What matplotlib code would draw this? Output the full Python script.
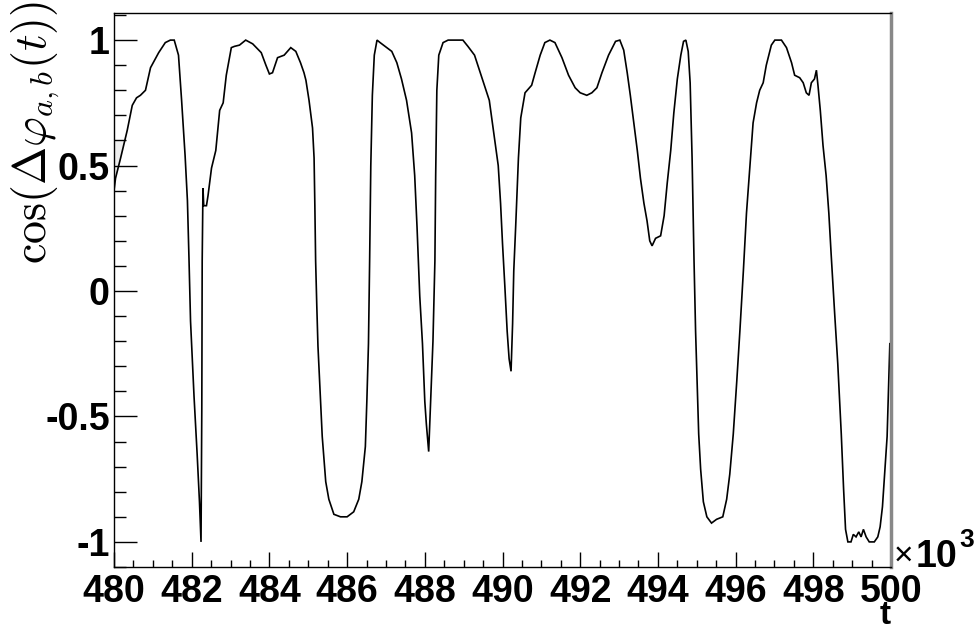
import numpy as np
import matplotlib
matplotlib.use("Agg")
import matplotlib.pyplot as plt
from matplotlib.ticker import MultipleLocator, FuncFormatter

# ---- data (t in units of 10^3) ----
t = [480.00, 480.04, 480.17, 480.34, 480.47, 480.58, 480.68, 480.81, 480.94, 481.15,
     481.32, 481.45, 481.55, 481.66, 481.74, 481.83, 481.89, 481.93, 481.97, 482.02,
     482.06, 482.14, 482.20, 482.24, 482.26, 482.27, 482.29, 482.31, 482.38, 482.42,
     482.51, 482.62, 482.72, 482.81, 482.89, 483.02, 483.10, 483.23, 483.39, 483.57,
     483.79, 483.91, 484.00, 484.08, 484.21, 484.38, 484.55, 484.68, 484.80, 484.89,
     484.94, 485.02, 485.11, 485.15, 485.17, 485.19, 485.22, 485.25, 485.30, 485.36,
     485.45, 485.53, 485.66, 485.83, 486.00, 486.17, 486.30, 486.38, 486.47, 486.51,
     486.55, 486.58, 486.61, 486.65, 486.70, 486.77, 486.85, 486.98, 487.15, 487.28,
     487.40, 487.53, 487.66, 487.74, 487.80, 487.87, 487.94, 488.00, 488.04, 488.10,
     488.15, 488.21, 488.26, 488.28, 488.31, 488.36, 488.47, 488.60, 488.98, 489.11,
     489.28, 489.45, 489.66, 489.80, 489.89, 489.95, 490.00, 490.06, 490.12, 490.17,
     490.22, 490.26, 490.29, 490.34, 490.41, 490.47, 490.58, 490.75, 490.84, 490.97,
     491.09, 491.22, 491.35, 491.53, 491.70, 491.87, 492.00, 492.17, 492.30, 492.43,
     492.56, 492.73, 492.91, 493.02, 493.12, 493.21, 493.29, 493.38, 493.47, 493.55,
     493.64, 493.72, 493.79, 493.85, 493.94, 494.07, 494.16, 494.24, 494.33, 494.41,
     494.50, 494.59, 494.66, 494.72, 494.78, 494.83, 494.88, 494.93, 494.97, 495.01,
     495.05, 495.10, 495.17, 495.26, 495.38, 495.51, 495.67, 495.77, 495.85, 495.94,
     496.03, 496.11, 496.20, 496.28, 496.37, 496.45, 496.54, 496.62, 496.71, 496.79,
     496.92, 497.01, 497.18, 497.31, 497.44, 497.52, 497.65, 497.74, 497.82, 497.89,
     497.95, 498.03, 498.08, 498.12, 498.18, 498.25, 498.33, 498.40, 498.46, 498.55,
     498.63, 498.72, 498.78, 498.83, 498.89, 498.97, 499.03, 499.10, 499.17, 499.23,
     499.29, 499.36, 499.44, 499.57, 499.66, 499.72, 499.78, 499.84, 499.90, 499.97]

cos_dphi = [0.40, 0.45, 0.53, 0.64, 0.74, 0.77, 0.78, 0.80, 0.89, 0.95,
            0.99, 1.00, 1.00, 0.94, 0.76, 0.54, 0.36, 0.13, -0.12, -0.29,
            -0.42, -0.65, -0.84, -1.00, -0.47, 0.12, 0.41, 0.34, 0.34, 0.38,
            0.49, 0.56, 0.72, 0.75, 0.86, 0.97, 0.975, 0.98, 1.00, 0.985,
            0.95, 0.90, 0.865, 0.87, 0.93, 0.94, 0.97, 0.955, 0.91, 0.87,
            0.84, 0.76, 0.65, 0.53, 0.34, 0.12, -0.06, -0.22, -0.38, -0.58,
            -0.76, -0.83, -0.89, -0.90, -0.90, -0.88, -0.83, -0.76, -0.62, -0.43,
            -0.21, 0.12, 0.50, 0.78, 0.94, 1.00, 0.99, 0.975, 0.955, 0.91,
            0.845, 0.76, 0.63, 0.46, 0.255, -0.02, -0.21, -0.44, -0.53, -0.64,
            -0.44, -0.20, 0.12, 0.46, 0.80, 0.94, 0.99, 1.00, 1.00, 0.975,
            0.94, 0.86, 0.76, 0.60, 0.50, 0.35, 0.19, 0.02, -0.16, -0.27,
            -0.32, -0.13, 0.08, 0.26, 0.53, 0.69, 0.79, 0.82, 0.87, 0.94,
            0.99, 1.00, 0.99, 0.93, 0.86, 0.81, 0.79, 0.78, 0.79, 0.81,
            0.87, 0.94, 0.995, 1.00, 0.96, 0.87, 0.78, 0.67, 0.56, 0.45,
            0.35, 0.28, 0.20, 0.18, 0.21, 0.22, 0.30, 0.43, 0.56, 0.71,
            0.845, 0.94, 0.995, 1.00, 0.955, 0.83, 0.53, 0.12, -0.16, -0.36,
            -0.57, -0.71, -0.84, -0.90, -0.925, -0.91, -0.90, -0.83, -0.73, -0.57,
            -0.36, -0.16, 0.08, 0.31, 0.50, 0.67, 0.75, 0.80, 0.83, 0.90,
            0.98, 1.00, 1.00, 0.97, 0.91, 0.86, 0.85, 0.83, 0.79, 0.78,
            0.83, 0.845, 0.88, 0.82, 0.72, 0.58, 0.46, 0.31, 0.145, -0.09,
            -0.29, -0.57, -0.79, -0.95, -1.00, -1.00, -0.97, -0.98, -0.96, -0.98,
            -0.95, -0.98, -1.00, -1.00, -0.98, -0.94, -0.86, -0.72, -0.58, -0.21]

x_ticks = [480, 482, 484, 486, 488, 490, 492, 494, 496, 498, 500]
y_ticks = [-1, -0.5, 0, 0.5, 1]

W, H = 979, 631
plt.rcParams["mathtext.fontset"] = "cm"
fig = plt.figure(figsize=(W / 100, H / 100), dpi=100)
L, R, T, B = 114, 891, 13, 567
ax = fig.add_axes([L / W, 1 - B / H, (R - L) / W, (B - T) / H])

tt = np.array(t)
vv = np.array(cos_dphi)
# light fill artefact near the start of the curve
m = tt <= 480.40
ax.fill_between(tt[m], vv[m], 0.6, where=vv[m] < 0.6, interpolate=True,
                color="#eeeeee", lw=0)
ax.plot(tt, vv, color="black", lw=1.2, solid_joinstyle="miter")

ax.set_xlim(480, 500)
ax.set_ylim(-1.1, 1.108)

ax.set_xticks(x_ticks)
ax.set_yticks(y_ticks)
ax.xaxis.set_minor_locator(MultipleLocator(0.5))
ax.yaxis.set_minor_locator(MultipleLocator(0.1))
ax.xaxis.set_major_formatter(FuncFormatter(lambda v, p: "%g" % v))
ax.yaxis.set_major_formatter(FuncFormatter(lambda v, p: "%g" % v))
for lab in ax.get_xticklabels() + ax.get_yticklabels():
    lab.set_fontfamily("Liberation Sans")
    lab.set_fontweight("bold")
    lab.set_fontsize(27)

ax.tick_params(axis="x", which="major", direction="in", length=10.8, width=1,
               pad=5, top=False)
ax.tick_params(axis="x", which="minor", direction="in", length=5.4, width=1, top=False)
ax.tick_params(axis="y", which="major", direction="in", length=16.5, width=1,
               pad=3, right=False)
ax.tick_params(axis="y", which="minor", direction="in", length=8.5, width=1, right=False)

for s in ["left", "top", "bottom"]:
    ax.spines[s].set_color("black")
    ax.spines[s].set_linewidth(1.0)
ax.spines["right"].set_color("#888888")
ax.spines["right"].set_linewidth(2.5)

fig.text(36 / W, 1 - 1 / H, r"$\cos(\Delta\varphi_{a,b}(t))$", rotation=90,
         ha="center", va="top", fontsize=33, color="black")

# x10^3 exponent label
fig.text(894 / W, 1 - 565 / H, "\u00d7", fontsize=24, family="Liberation Sans",
         ha="left", va="baseline")
fig.text(916 / W, 1 - 567 / H, "10", fontsize=27, family="Liberation Sans",
         weight="bold", ha="left", va="baseline")
fig.text(959 / W, 1 - 547 / H, "3", fontsize=19, family="Liberation Sans",
         weight="bold", ha="left", va="baseline")

# axis title
fig.text(891 / W, 0.0, "t", fontsize=24, family="Liberation Sans",
         weight="bold", ha="right", va="bottom")

fig.savefig("out.png", dpi=100)
